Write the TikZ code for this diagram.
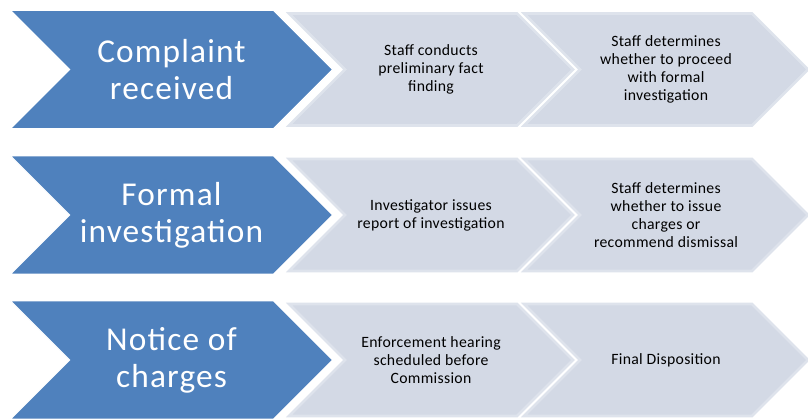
\documentclass[tikz,border=0pt]{standalone}
\usepackage{fontspec}
\setmainfont{Carlito}
\newfontfamily\stagefont[LetterSpace=3.5]{Carlito}
\newfontfamily\taskfont[LetterSpace=2]{Carlito}
\usetikzlibrary{shapes.symbols}
\definecolor{stageblue}{HTML}{4F81BD}
\definecolor{taskgray}{HTML}{D3D9E5}
\definecolor{taskedge}{HTML}{DEE3EC}
\tikzset{
  stage/.style={signal, signal to=east, signal from=west, signal pointer angle=90,
    fill=stageblue, draw=white, line width=1pt, inner sep=0pt,
    minimum width=242pt, minimum height=89pt,
    text=white, align=center, font=\stagefont\fontsize{25}{28}\selectfont},
  task/.style={signal, signal to=east, signal from=west, signal pointer angle=90,
    fill=taskgray, draw=taskedge, line width=2pt, inner sep=0pt,
    minimum width=213pt, minimum height=84pt,
    align=center, font=\taskfont\fontsize{11.8}{13.5}\selectfont}
}
\begin{document}
\begin{tikzpicture}[x=0.75pt,y=-0.75pt]
\useasboundingbox (0,0) rectangle (808,419);
% complaint row
\node[task] (factfind) at (431,69.5) {Staff conducts\\preliminary fact\\finding};
\node[task] (proceed) at (666,69.5) {Staff determines\\whether to proceed\\with formal\\investigation};
\node[stage] (complaint) at (171.5,69.5) {Complaint\\received};
% investigation row
\node[task] (report) at (431,215) {Investigator issues\\report of investigation};
\node[task] (charges) at (666,215) {Staff determines\\whether to issue\\charges or\\recommend dismissal};
\node[stage] (investigation) at (171.5,215) {Formal\\investigation};
% notice row
\node[task] (hearing) at (431,360) {Enforcement hearing\\scheduled before\\Commission};
\node[task] (disposition) at (666,360) {Final Disposition};
\node[stage] (notice) at (171.5,360) {Notice of\\charges};
\end{tikzpicture}
\end{document}
